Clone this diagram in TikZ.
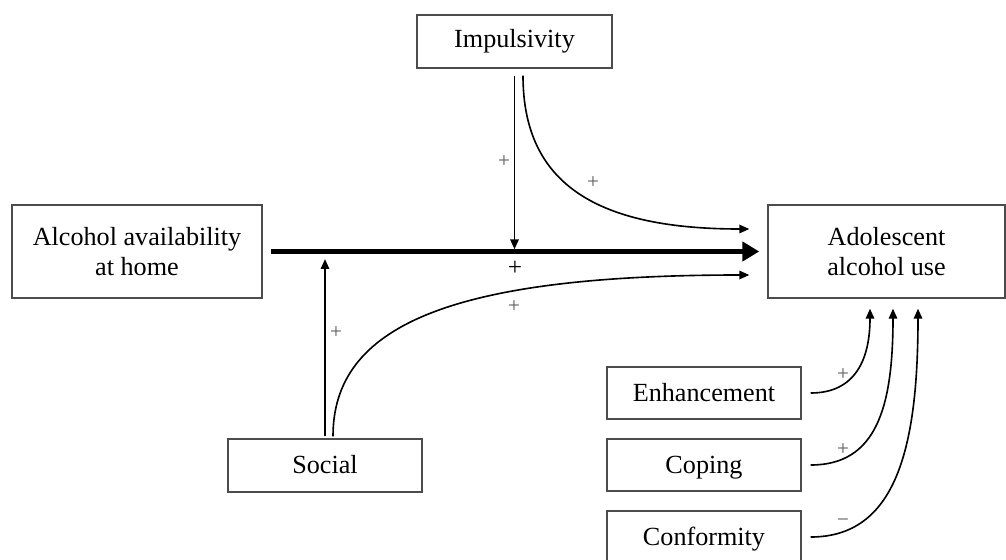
\documentclass[tikz,border=0pt]{standalone}
\usepackage{fontspec}
\setmainfont{Liberation Serif}
\usetikzlibrary{arrows.meta}
\tikzset{
  boks/.style={draw=black!70,line width=1pt,align=center,inner sep=0pt,
    font=\fontsize{18.6}{21}\selectfont},
  enkel/.style={boks,text height=13pt,text depth=1pt},
  pil/.style={line width=1.15pt,-{Triangle[length=7pt,width=6pt]}},
  hovedpil/.style={line width=3.2pt,-{Triangle[length=12pt,width=13.5pt]}},
  fortegn/.style={font=\fontsize{15}{16}\selectfont,text=black!65,inner sep=0pt}
}
\begin{document}
\begin{tikzpicture}[x=0.025cm,y=-0.025cm]
  \useasboundingbox (0,0) rectangle (1006,559);
  %kasser
  	\node[boks,minimum width=6.25cm,minimum height=2.325cm] (alkohol) at (137,251.5) {Alcohol availability\\at home};
  	\node[boks,minimum width=5.925cm,minimum height=2.325cm] (unge) at (886.5,251.5) {Adolescent\\alcohol use};
  	\node[boks,minimum width=4.875cm,minimum height=1.325cm] (impuls) at (514.5,41.5) {Impulsivity};
  	\node[enkel,minimum width=4.85cm,minimum height=1.325cm] (social) at (325,465.5) {Social};
  	\node[enkel,minimum width=4.85cm,minimum height=1.3cm] (enh) at (704,393) {Enhancement};
  	\node[enkel,minimum width=4.85cm,minimum height=1.3cm] (coping) at (704,465) {Coping};
  	\node[enkel,minimum width=4.85cm,minimum height=1.3cm] (conform) at (704,537) {Conformity};

  %hovedeffekt
  	\draw[hovedpil,shorten <=0.2cm,shorten >=0.2cm] (alkohol.east) -- (unge.west);
  	\node[font=\fontsize{18}{18}\selectfont,inner sep=0pt] (plus) at (515,268) {+};

  %impulsivitet
  	\draw[pil,shorten >=1.6pt] ([shift={(0,7)}]impuls.south) -- (impuls.south |- alkohol.east);
  	\draw[pil] ([shift={(8.5,7)}]impuls.south) .. controls +(0,110) and +(-150,0) .. ([shift={(-18,-22.5)}]unge.west);
  	\node[fortegn] (l1) at (504,162) {+};
  	\node[fortegn] (l2) at (593,183) {+};

  %social
  	\draw[pil,shorten >=0.19cm] ([shift={(0,-2)}]social.north) -- (social.north |- alkohol.east);
  	\draw[pil] ([shift={(8,-2)}]social.north) .. controls +(0,-110) and +(-300,0) .. ([shift={(-18,23.5)}]unge.west);
  	\node[fortegn] (l3) at (336,333) {+};
  	\node[fortegn] (l4) at (514,307) {+};

  %motiver
  	\draw[pil] ([xshift=0.225cm]enh.east) .. controls +(45,0) and +(0,50) .. ([shift={(-16.5,10)}]unge.south);
  	\draw[pil] ([xshift=0.225cm]coping.east) .. controls +(65,0) and +(0,100) .. ([shift={(6.5,10)}]unge.south);
  	\draw[pil] ([xshift=0.225cm]conform.east) .. controls +(85,0) and +(0,140) .. ([shift={(31.5,10)}]unge.south);
  	\node[fortegn] (l5) at (843,375) {+};
  	\node[fortegn] (l6) at (843,450) {+};
  	\node[fortegn] (l7) at (843,523) {−};
\end{tikzpicture}
\end{document}
